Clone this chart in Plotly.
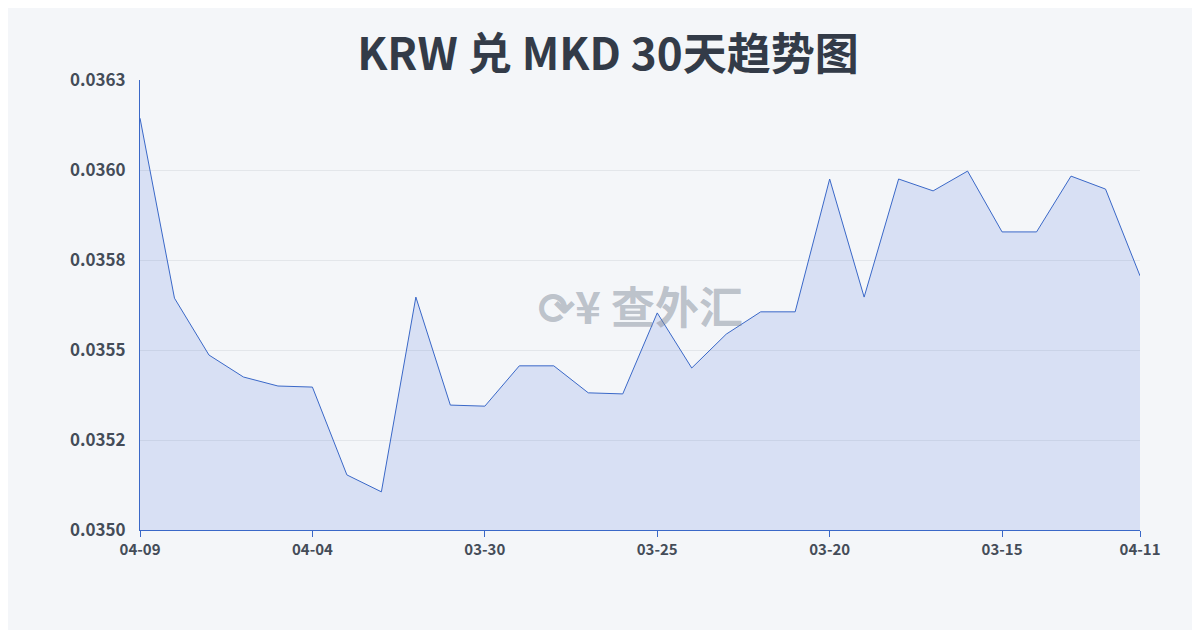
import plotly.graph_objects as go

dates = ['04-09', '04-08', '04-07', '04-06', '04-05', '04-04', '04-03', '04-02', '04-01', '03-31',
         '03-30', '03-29', '03-28', '03-27', '03-26', '03-25', '03-24', '03-23', '03-22', '03-21',
         '03-20', '03-19', '03-18', '03-17', '03-16', '03-15', '03-14', '03-13', '03-12', '04-11']
rates = [0.036144, 0.035644, 0.035486, 0.035425, 0.035400, 0.035397, 0.035153, 0.035106, 0.035647, 0.035347,
         0.035344, 0.035456, 0.035456, 0.035381, 0.035378, 0.035603, 0.035450, 0.035544, 0.035606, 0.035606,
         0.035975, 0.035647, 0.035975, 0.035942, 0.035997, 0.035828, 0.035828, 0.035983, 0.035947, 0.035706]
tick_dates = ['04-09', '04-04', '03-30', '03-25', '03-20', '03-15', '04-11']
tick_vals = [0.0350, 0.03525, 0.0355, 0.03575, 0.0360, 0.03625]
tick_text = ['0.0350', '0.0352', '0.0355', '0.0358', '0.0360', '0.0363']

fig = go.Figure()
fig.add_trace(go.Scatter(x=list(range(len(dates))), y=rates, mode='lines',
                         line=dict(color='#3a68c8', width=1),
                         fill='tozeroy', fillcolor='rgba(90,130,220,0.18)',
                         hoverinfo='skip'))

fig.update_xaxes(range=[0, len(dates) - 1],
                 tickvals=[dates.index(d) if d != '04-11' else len(dates) - 1 for d in tick_dates],
                 ticktext=['<b>%s</b>' % d for d in tick_dates], showgrid=False, ticks='outside', ticklen=6,
                 tickcolor='#3a68c8', showline=True, linecolor='#3a68c8',
                 tickfont=dict(size=15, color='#444c58', family='Noto Sans CJK SC'))
fig.update_yaxes(range=[0.0350, 0.03625], tickvals=tick_vals, ticktext=['<b>%s</b>' % t for t in tick_text],
                 showgrid=True, gridcolor='#e3e6ea', zeroline=False,
                 showline=True, linecolor='#3a68c8', ticklabelstandoff=10,
                 tickfont=dict(size=17, color='#444c58', family='Noto Sans CJK SC'))

fig.add_annotation(x=0.5, y=0.5, xref='paper', yref='paper', showarrow=False,
                   text='<b>⟳¥ 查外汇</b>', font=dict(size=44, color='rgba(120,130,145,0.45)',
                                                  family='Noto Sans CJK SC'))

fig.update_layout(
    width=1200, height=630,
    margin=dict(l=132, r=68, t=72, b=108),
    paper_bgcolor='#f4f6f9', plot_bgcolor='rgba(0,0,0,0)',
    showlegend=False,
    title=dict(text='<b>KRW 兑 MKD 30天趋势图</b>', x=0.5, y=0.95, xanchor='center',
               font=dict(size=44, color='#333b48', family='Noto Sans CJK SC')),
)
fig.write_html("out.html")
